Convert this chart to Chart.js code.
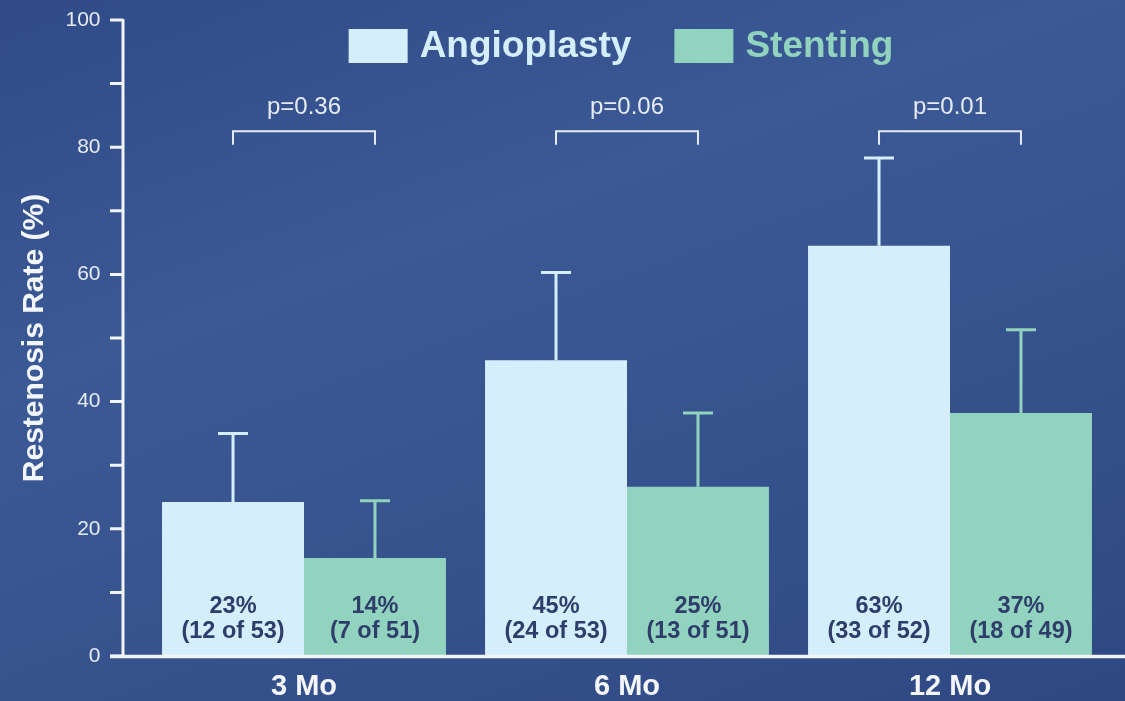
<!DOCTYPE html>
<html>
<head>
<meta charset="utf-8">
<script src="https://cdn.jsdelivr.net/npm/chart.js@4.4.1/dist/chart.umd.min.js"></script>
<style>
html, body { margin: 0; padding: 0; }
body {
	width: 1125px; height: 701px; overflow: hidden;
	background: linear-gradient(160deg, #304b87 0%, #3b5995 35%, #37548f 60%, #2e4883 100%);
}
#wrap { position: relative; width: 1125px; height: 701px; }
</style>
</head>
<body>
<div id="wrap"><canvas id="myChart"></canvas></div>
<script>
// values
var categories = ['3 Mo', '6 Mo', '12 Mo'];
var angioplasty = [24.2, 46.5, 64.5];
var stenting = [15.4, 26.6, 38.2];
var angioplastyErr = [35.0, 60.3, 78.3];
var stentingErr = [24.4, 38.2, 51.3];
var angioplastyPct = ['23%', '45%', '63%'];
var angioplastyN = ['(12 of 53)', '(24 of 53)', '(33 of 52)'];
var stentingPct = ['14%', '25%', '37%'];
var stentingN = ['(7 of 51)', '(13 of 51)', '(18 of 49)'];
var pValues = ['p=0.36', 'p=0.06', 'p=0.01'];

var FONT = '"Liberation Sans", Arial, sans-serif';

var extras = {
	id: 'extras',
	afterDatasetsDraw: function(chart) {
		var ctx = chart.ctx;
		var y = chart.scales.y;
		var area = chart.chartArea;
		var zero = y.getPixelForValue(0);
		ctx.save();

		// error bars + labels inside bars
		chart.data.datasets.forEach(function(ds, i) {
			var meta = chart.getDatasetMeta(i);
			meta.data.forEach(function(bar, j) {
				var top = y.getPixelForValue(ds.errTop[j]);
				ctx.strokeStyle = ds.backgroundColor;
				ctx.lineWidth = 3;
				ctx.beginPath();
				ctx.moveTo(bar.x, bar.y);
				ctx.lineTo(bar.x, top);
				ctx.moveTo(bar.x - 15, top);
				ctx.lineTo(bar.x + 15, top);
				ctx.stroke();

				ctx.fillStyle = '#2e3d6a';
				ctx.font = 'bold 23.5px ' + FONT;
				ctx.textAlign = 'center';
				ctx.textBaseline = 'middle';
				ctx.fillText(ds.pct[j], bar.x, zero - 49);
				ctx.fillText(ds.counts[j], bar.x, zero - 24);
			});
		});

		// p-value brackets
		var a = chart.getDatasetMeta(0).data;
		var s = chart.getDatasetMeta(1).data;
		var yLine = y.getPixelForValue(82.5);
		var yEnd = y.getPixelForValue(80.4);
		ctx.strokeStyle = '#e6ebf2';
		ctx.lineWidth = 2;
		ctx.fillStyle = '#e6ebf2';
		ctx.font = '24px ' + FONT;
		pValues.forEach(function(p, j) {
			ctx.beginPath();
			ctx.moveTo(a[j].x, yEnd);
			ctx.lineTo(a[j].x, yLine);
			ctx.lineTo(s[j].x, yLine);
			ctx.lineTo(s[j].x, yEnd);
			ctx.stroke();
			ctx.fillText(p, (a[j].x + s[j].x) / 2, y.getPixelForValue(86.3));
		});

		// axes
		var axisX = area.left - 19.5;
		ctx.strokeStyle = '#f1f4f8';
		ctx.lineWidth = 3;
		ctx.beginPath();
		ctx.moveTo(axisX, y.getPixelForValue(y.max) - 1);
		ctx.lineTo(axisX, zero);
		for (var v = y.min; v <= y.max; v += 10) {
			var py = y.getPixelForValue(v);
			ctx.moveTo(axisX - 13, py);
			ctx.lineTo(axisX, py);
		}
		ctx.stroke();
		ctx.lineWidth = 3.5;
		ctx.beginPath();
		ctx.moveTo(axisX - 13, zero + 0.5);
		ctx.lineTo(chart.width, zero + 0.5);
		ctx.stroke();

		// legend
		ctx.font = 'bold 37px ' + FONT;
		ctx.textAlign = 'left';
		var boxW = 59, boxH = 34, gap = 12, itemGap = 43;
		var widths = chart.data.datasets.map(function(ds) { return ctx.measureText(ds.label).width; });
		var total = boxW * 2 + gap * 2 + itemGap + widths[0] + widths[1];
		var lx = (area.left + area.right) / 2 - 6 - total / 2;
		var ly = area.top + 26;
		chart.data.datasets.forEach(function(ds, i) {
			ctx.fillStyle = ds.backgroundColor;
			ctx.fillRect(lx, ly - boxH / 2, boxW, boxH);
			ctx.fillText(ds.label, lx + boxW + gap, ly + 1);
			lx += boxW + gap + widths[i] + itemGap;
		});
		ctx.restore();
	}
};

var ctx = document.getElementById('myChart').getContext('2d');
var myChart = new Chart(ctx, {
	type: 'bar',
	data: {
		labels: categories,
		datasets: [{
			label: 'Angioplasty',
			data: angioplasty,
			errTop: angioplastyErr,
			pct: angioplastyPct,
			counts: angioplastyN,
			backgroundColor: '#d4eefb',
			borderWidth: 0
		}, {
			label: 'Stenting',
			data: stenting,
			errTop: stentingErr,
			pct: stentingPct,
			counts: stentingN,
			backgroundColor: '#92d3bf',
			borderWidth: 0
		}]
	},
	options: {
		responsive: true,
		maintainAspectRatio: false,
		animation: false,
		categoryPercentage: 0.879,
		barPercentage: 1.0,
		layout: { padding: { top: 20, right: 13.5, left: 0, bottom: 0 } },
		plugins: {
			legend: { display: false },
			tooltip: { enabled: false }
		},
		scales: {
			x: {
				grid: { display: false, drawTicks: false },
				border: { display: false },
				ticks: {
					color: '#f4f6fa',
					padding: 14,
					font: { family: FONT, size: 29, weight: 'bold' }
				},
				afterFit: function(scale) { scale.height = 45; }
			},
			y: {
				min: 0,
				max: 100,
				grid: { display: true, drawOnChartArea: false, drawTicks: true, tickLength: 36, tickColor: 'rgba(0,0,0,0)' },
				border: { display: false },
				ticks: {
					stepSize: 20,
					color: '#e6ebf2',
					padding: 6,
					font: { family: FONT, size: 21 }
				},
				title: {
					display: true,
					text: 'Restenosis Rate (%)',
					color: '#f2f5f9',
					padding: { top: 17, bottom: 0 },
					font: { family: FONT, size: 30, weight: 'bold' }
				},
				afterFit: function(scale) { scale.width = 142.5; }
			}
		}
	},
	plugins: [extras]
});
</script>
</body>
</html>
